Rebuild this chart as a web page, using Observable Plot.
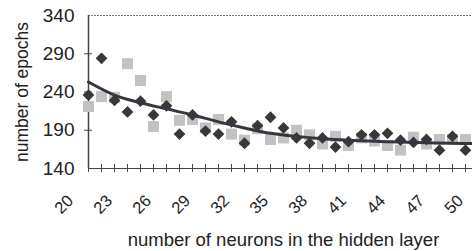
<!DOCTYPE html>
<html><head><meta charset="utf-8">
<script src="https://cdn.jsdelivr.net/npm/d3@7"></script>
<script src="https://cdn.jsdelivr.net/npm/@observablehq/plot@0.6"></script>
<style>
html,body{margin:0;padding:0;background:#fff;overflow:hidden;}
#chart svg{display:block;}
</style></head><body><div id="chart"></div>
<script>
const neurons = [20,21,22,23,24,25,26,27,28,29,30,31,32,33,34,35,36,37,38,39,40,41,42,43,44,45,46,47,48,49];
const epochsDiamond = [236,284,229,214,228,210,222,185,210,189,185,201,173,196,207,193,180,173,180,168,175,184,184,186,177,174,178,164,182,164];
const epochsSquare = [221,234,233,277,255,195,234,203,204,193,204,185,177,192,178,180,190,184,172,182,170,180,176,170,164,181,172,178,178,178];
const trendNeurons = [20,22,24,26,28,30,32,34,36,38,40,42,44,46,48,50];
const trendEpochs = [253,236,226,218,210,201,193,186,182,179,177,175.5,174.5,173.5,173,172.5];
const yTicks = [140,190,240,290,340];
const xTickLabels = [20,23,26,29,32,35,38,41,44,47,50];
const xMinorTicks = d3.range(20, 51);
const xTitle = "number of neurons in the hidden layer";
const yTitle = "number of epochs";

const diamonds = neurons.map((n, i) => ({n, e: epochsDiamond[i]}));
const squares = neurons.map((n, i) => ({n, e: epochsSquare[i]}));
const trend = trendNeurons.map((n, i) => ({n, e: trendEpochs[i]}));

const chart = Plot.plot({
  width: 472, height: 251,
  marginLeft: 88, marginRight: -6, marginTop: 15, marginBottom: 83,
  style: {fontFamily: "'Liberation Sans', Arial, sans-serif", background: "transparent", color: "#333"},
  x: {domain: [20, 50]},
  y: {domain: [140, 340]},
  marks: [
    Plot.ruleY([340], {stroke: "#777", strokeDasharray: "2,1"}),
    Plot.ruleX([20], {stroke: "#444", strokeWidth: 1.5}),
    Plot.ruleY([140], {stroke: "#444", strokeWidth: 1.2}),
    Plot.axisX({ticks: xMinorTicks, tickSize: 8, dy: -4, tickFormat: () => "", label: null, stroke: "#444"}),
    Plot.axisX({ticks: xTickLabels, tickSize: 0, tickRotate: -45, tickPadding: 14, dx: -18, dy: 15.5, fontSize: 16.5, fill: "#222", label: null}),
    Plot.axisY({ticks: [190,240,290], tickSize: 8, dx: 4, tickFormat: () => "", label: null, stroke: "#444"}),
    Plot.axisY({ticks: yTicks, tickSize: 0, tickPadding: 14, fontSize: 19, fill: "#222", label: null}),
    Plot.dot(squares, {x: "n", y: "e", symbol: "square", r: 6.2, fill: "#c2c2c2", stroke: "none"}),
    Plot.dot(diamonds, {x: "n", y: "e", symbol: "diamond2", r: 5.3, fill: "#383838", stroke: "none"}),
    Plot.line(trend, {x: "n", y: "e", curve: "catmull-rom", stroke: "#3b3440", strokeWidth: 3}),
    Plot.text([xTitle], {text: d => d, frameAnchor: "bottom", dy: 72, fontSize: 18.5, lineAnchor: "middle", fill: "#222"}),
    Plot.text([yTitle], {text: d => d, frameAnchor: "left", rotate: -90, dx: -66, fontSize: 17.5, textAnchor: "middle", lineAnchor: "middle", fill: "#222"})
  ]
});
document.getElementById("chart").appendChild(chart);
</script>
</body></html>
